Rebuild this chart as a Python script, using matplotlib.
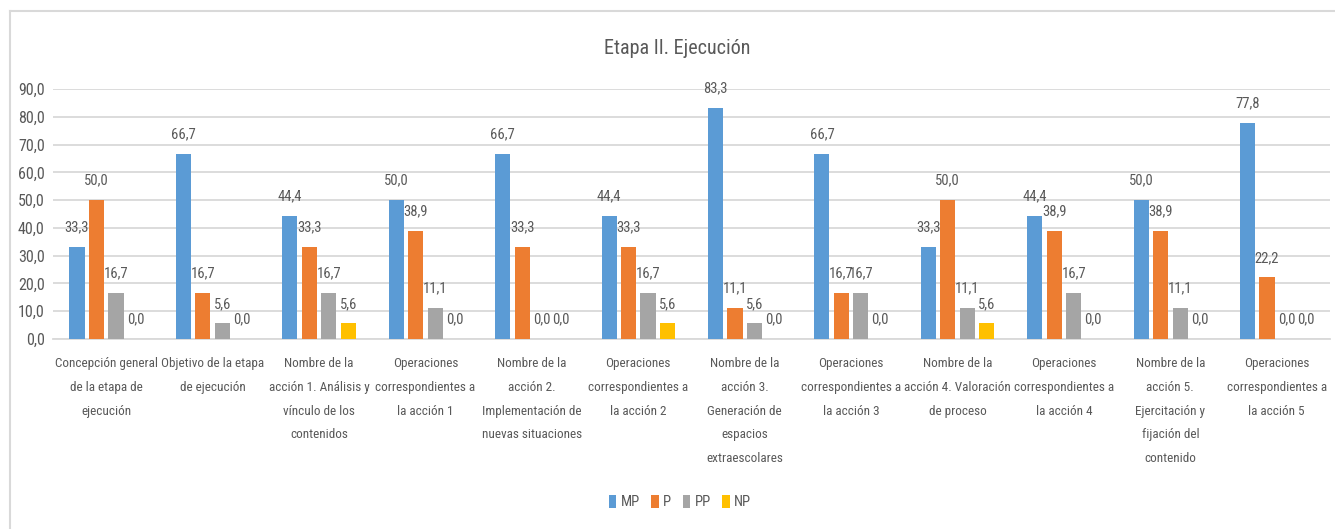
import numpy as np
import matplotlib
matplotlib.use("Agg")
import matplotlib.pyplot as plt
from matplotlib.lines import Line2D

plt.rcParams['font.family'] = ['Roboto Condensed', 'DejaVu Sans']
plt.rcParams['font.stretch'] = 'condensed'

# data
categories = [
    "Concepción general\nde la etapa de\nejecución",
    "Objetivo de la etapa\nde ejecución",
    "Nombre de la\nacción 1. Análisis y\nvínculo de los\ncontenidos",
    "Operaciones\ncorrespondientes a\nla acción 1",
    "Nombre de la\nacción 2.\nImplementación de\nnuevas situaciones",
    "Operaciones\ncorrespondientes a\nla acción 2",
    "Nombre de la\nacción 3.\nGeneración de\nespacios\nextraescolares",
    "Operaciones\ncorrespondientes a\nla acción 3",
    "Nombre de la\nacción 4. Valoración\nde proceso",
    "Operaciones\ncorrespondientes a\nla acción 4",
    "Nombre de la\nacción 5.\nEjercitación y\nfijación del\ncontenido",
    "Operaciones\ncorrespondientes a\nla acción 5",
]
series_names = ["MP", "P", "PP", "NP"]
mp = [33.3, 66.7, 44.4, 50.0, 66.7, 44.4, 83.3, 66.7, 33.3, 44.4, 50.0, 77.8]
p = [50.0, 16.7, 33.3, 38.9, 33.3, 33.3, 11.1, 16.7, 50.0, 38.9, 38.9, 22.2]
pp = [16.7, 5.6, 16.7, 11.1, 0.0, 16.7, 5.6, 16.7, 11.1, 16.7, 11.1, 0.0]
np_ = [0.0, 0.0, 5.6, 0.0, 0.0, 5.6, 0.0, 0.0, 5.6, 0.0, 0.0, 0.0]
colors = ["#5B9BD5", "#ED7D31", "#A5A5A5", "#FFC000"]
yticks = np.arange(0, 91, 10)

txt = "#595959"
fs = 9.5
fig = plt.figure(figsize=(13.35, 5.29), dpi=100)
ax = fig.add_axes([53 / 1335, 1 - 339 / 529, (1330 - 53) / 1335, (339 - 89) / 529])

x = np.arange(len(categories))
w = 0.142
step = 0.183
for k, (vals, col) in enumerate(zip([mp, p, pp, np_], colors)):
    pos = x + (k - 1.5) * step
    bars = ax.bar(pos, vals, w, color=col, label=series_names[k], zorder=3)
    for xi, v in zip(pos, vals):
        ax.annotate(f"{v:.1f}".replace(".", ","), (xi, v), xytext=(0, 14),
                    textcoords="offset points", ha="center", va="center",
                    fontsize=10.5, color=txt)

ax.set_xlim(-0.5, len(categories) - 0.5)
ax.set_ylim(0, 90)
ax.set_yticks(yticks)
ax.set_yticklabels([f"{t:.1f}".replace(".", ",") for t in yticks], fontsize=11.5, color=txt)
ax.set_xticks(x)
ax.set_xticklabels(categories, fontsize=fs, color=txt, linespacing=2.08, va="top")
ax.tick_params(axis="both", length=0)
ax.tick_params(axis="x", pad=13)
ax.tick_params(axis="y", pad=6)
ax.grid(axis="y", color="#D9D9D9", linewidth=1.3, zorder=0)
for s in ["top", "right", "left"]:
    ax.spines[s].set_visible(False)
ax.spines["bottom"].set_color("#D9D9D9")
ax.spines["bottom"].set_linewidth(1.3)

fig.text(677 / 1335, 1 - 48 / 529, "Etapa II. Ejecución", ha="center", va="center",
         fontsize=14.5, color=txt)

leg = fig.legend(loc="center", bbox_to_anchor=(680 / 1335, 1 - 502 / 529), ncol=4,
                 frameon=False, fontsize=10.5, handlelength=0.5, handleheight=1.0,
                 handletextpad=0.3, columnspacing=0.8)
for t in leg.get_texts():
    t.set_color(txt)

# chart frame (top and left edges visible)
fig.add_artist(Line2D([10 / 1335, 10 / 1335], [0, 1 - 11 / 529], color="#D9D9D9", linewidth=1.5))
fig.add_artist(Line2D([10 / 1335, 1], [1 - 11 / 529, 1 - 11 / 529], color="#D9D9D9", linewidth=1.5))

fig.savefig("out.png", dpi=100, facecolor="white")
